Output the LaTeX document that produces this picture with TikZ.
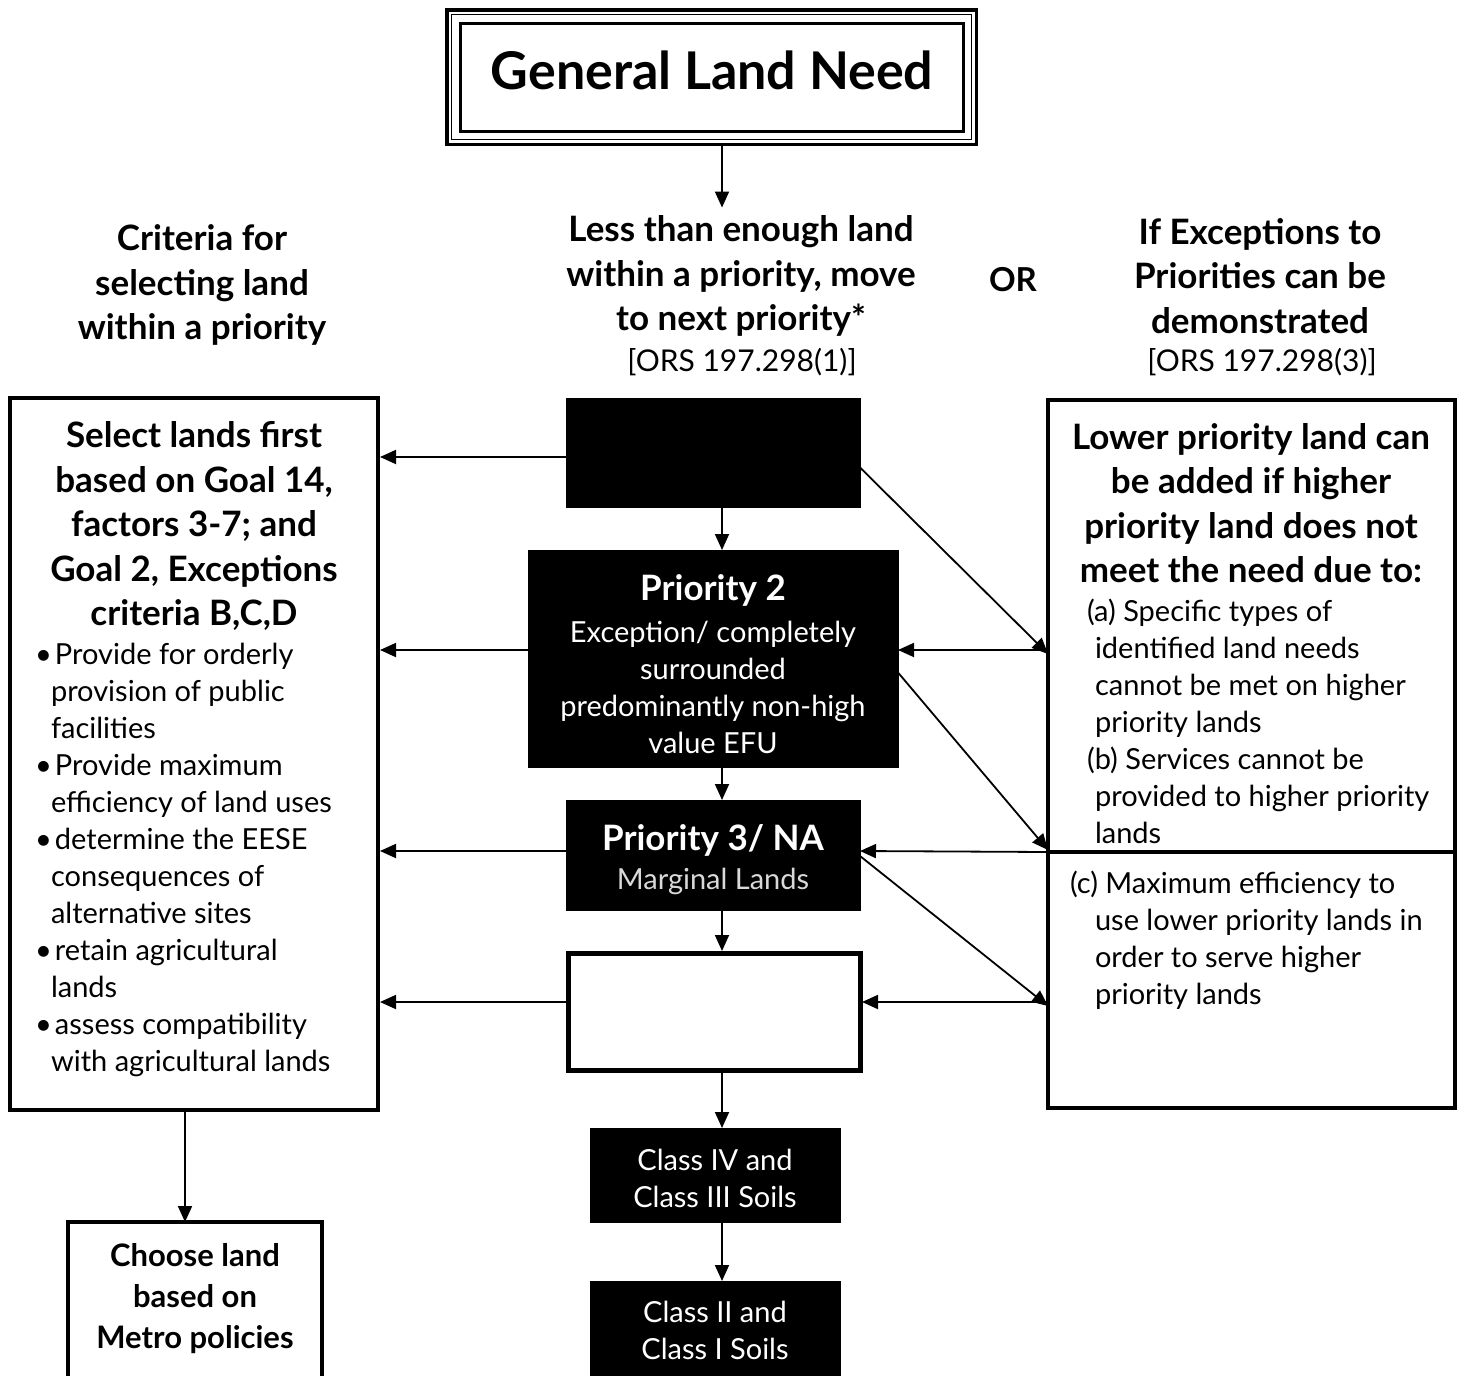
\documentclass[tikz,border=0pt]{standalone}
\usepackage{fontspec}
\setmainfont{Lato}
\usetikzlibrary{arrows.meta,calc}
\newcommand\titlefont{\fontsize{52}{60}\selectfont\bfseries}
\newcommand\hdfont{\fontsize{35}{44.5}\selectfont\bfseries}
\newcommand\nrfont{\fontsize{29}{37}\selectfont}
\newcommand\bul{\makebox[20pt][l]{\textbullet}}
\begin{document}
\begin{tikzpicture}[x=1pt,y=-1pt,
  arr/.style={line width=1.8pt,-{Triangle[length=16pt,width=14pt]}},
  box/.style={draw=black,inner sep=0pt,outer sep=0pt},
  blk/.style={draw=black,fill=black,line width=1pt,inner sep=0pt,outer sep=0pt,text=white},
  txt/.style={inner sep=0pt,outer sep=0pt,align=center}]
\useasboundingbox (0,0) rectangle (1465,1376);
% title
\node[inner sep=0pt,outer sep=0pt,minimum width=533pt,minimum height=138pt] (title) at (711.5,77) {};
\draw[line width=3.5pt] ($(title.south west)+(1.75,-1.75)$) rectangle ($(title.north east)+(-1.75,1.75)$);
\draw[line width=1.5pt] ($(title.south west)+(6.5,-6.5)$) rectangle ($(title.north east)+(-6.5,6.5)$);
\draw[line width=3pt] ($(title.south west)+(15,-15)$) rectangle ($(title.north east)+(-15,15)$);
\node[txt,font=\titlefont] (titletext) at (712,70) {General Land Need};
\coordinate (x0) at (722,0);
\coordinate (x1) at (185,0);
% headers
\node[txt,font=\hdfont] (hl) at (202,285) {Criteria for\\selecting land\\within a priority};
\node[txt,font=\hdfont] (hc) at (741,276) {Less than enough land\\within a priority, move\\to next priority*};
\node[txt,font=\fontsize{30}{37}\selectfont] (orsc) at (742,362) {[ORS 197.298(1)]};
\node[txt,font=\fontsize{33}{40}\selectfont\bfseries] (or) at (1013,280) {OR};
\node[txt,font=\hdfont] (hr) at (1260,276) {If Exceptions to\\Priorities can be\\demonstrated};
\node[txt,font=\fontsize{30}{37}\selectfont] (orsr) at (1262,362) {[ORS 197.298(3)]};
% center column
\node[blk,minimum width=294pt,minimum height=109pt] (b1) at (713,452.5) {};
\node[blk,minimum width=370pt,minimum height=217pt] (b2) at (713,658.5) {};
\node[txt,font=\hdfont,text=white] (b2t) at (713,590) {Priority 2};
\node[txt,font=\nrfont,text=white] (b2s) at (713,687) {Exception/ completely\\surrounded\\predominantly non-high\\value EFU};
\node[blk,minimum width=294pt,minimum height=110pt] (b3) at (713,855) {};
\node[txt,font=\hdfont,text=white] (b3t) at (713,840) {Priority 3/ NA};
\node[txt,font=\nrfont,text=white!85!black] (b3s) at (713,881) {Marginal Lands};
\node[box,line width=5pt,minimum width=292pt,minimum height=117pt] (b4) at (714,1011.5) {};
\node[blk,minimum width=250pt,minimum height=94pt] (b5) at (715,1175) {};
\node[txt,font=\nrfont,text=white] (b5t) at (715,1178) {Class IV and\\Class III Soils};
\node[blk,minimum width=250pt,minimum height=100pt] (b6) at (715,1331) {};
\node[txt,font=\nrfont,text=white] (b6t) at (715,1330) {Class II and\\Class I Soils};
% left box
\node[box,line width=4.5pt,minimum width=368pt,minimum height=712pt] (lb) at (194,754) {};
\node[txt,font=\hdfont] (lbt) at (194,526) {Select lands first\\based on Goal 14,\\factors 3-7; and\\Goal 2, Exceptions\\criteria B,C,D};
\node[txt,font=\nrfont,align=left,anchor=west] (lbl) at (35,860) {%
\bul Provide for orderly\\
\hspace*{16pt}provision of public\\
\hspace*{16pt}facilities\\
\bul Provide maximum\\
\hspace*{16pt}efficiency of land uses\\
\bul determine the EESE\\
\hspace*{16pt}consequences of\\
\hspace*{16pt}alternative sites\\
\bul retain agricultural\\
\hspace*{16pt}lands\\
\bul assess compatibility\\
\hspace*{16pt}with agricultural lands};
\node[box,line width=4pt,minimum width=254pt,minimum height=160pt] (ch) at (195,1302) {};
\node[txt,font=\fontsize{31}{41}\selectfont\bfseries] (cht) at (195,1299) {Choose land\\based on\\Metro policies};
% right box
\node[box,line width=3.5pt,minimum width=407pt,minimum height=452pt] (ra) at (1251.5,626) {};
\node[box,line width=3.5pt,minimum width=407pt,minimum height=256pt] (rb) at (1251.5,980) {};
\node[txt,font=\hdfont] (rat) at (1251,503) {Lower priority land can\\be added if higher\\priority land does not\\meet the need due to:};
\node[txt,font=\nrfont,align=left,anchor=west] (ras) at (1087,721) {%
(a) Specific types of\\
\hspace*{8pt}identified land needs\\
\hspace*{8pt}cannot be met on higher\\
\hspace*{8pt}priority lands\\
(b) Services cannot be\\
\hspace*{8pt}provided to higher priority\\
\hspace*{8pt}lands};
\node[txt,font=\nrfont,align=left,anchor=west] (rbs) at (1070,940.5) {%
(c) Maximum efficiency to\\
\hspace*{25pt}use lower priority lands in\\
\hspace*{25pt}order to serve higher\\
\hspace*{25pt}priority lands};
% row coordinates
\coordinate (y1) at (0,457);
\coordinate (y2) at (0,650);
\coordinate (y3) at (0,851);
\coordinate (y4) at (0,1002);
% vertical arrows
\draw[arr] (title.south -| x0) -- ([yshift=8pt]hc.north -| x0);
\draw[arr] (b1.south -| x0) -- (b2.north -| x0);
\draw[arr] (b2.south -| x0) -- (b3.north -| x0);
\draw[arr] (b3.south -| x0) -- ([yshift=2pt]b4.north -| x0);
\draw[arr] ([yshift=2pt]b4.south -| x0) -- (b5.north -| x0);
\draw[arr] (b5.south -| x0) -- (b6.north -| x0);
\draw[arr] (lb.south -| x1) -- (ch.north -| x1);
% left arrows
\draw[arr] (b1.west |- y1) -- ([xshift=2pt]lb.east |- y1);
\draw[arr] (b2.west |- y2) -- ([xshift=2pt]lb.east |- y2);
\draw[arr] (b3.west |- y3) -- ([xshift=2pt]lb.east |- y3);
\draw[arr] ([xshift=-2pt]b4.west |- y4) -- ([xshift=2pt]lb.east |- y4);
% right arrows
\draw[arr] (ra.west |- y2) -- (b2.east |- y2);
\draw[arr] (ra.south west) -- (b3.east |- y3);
\draw[arr] (rb.west |- y4) -- ([xshift=2pt]b4.east |- y4);
% diagonals
\draw[arr] ([yshift=-15pt]b1.east) -- ([yshift=-4pt]ra.west |- y2);
\draw[arr] ([yshift=-14pt]b2.east) -- ([yshift=2pt]ra.south west);
\draw[arr] ([yshift=-1pt]b3.east) -- ([yshift=-4pt]rb.west |- y4);
\end{tikzpicture}
\end{document}
